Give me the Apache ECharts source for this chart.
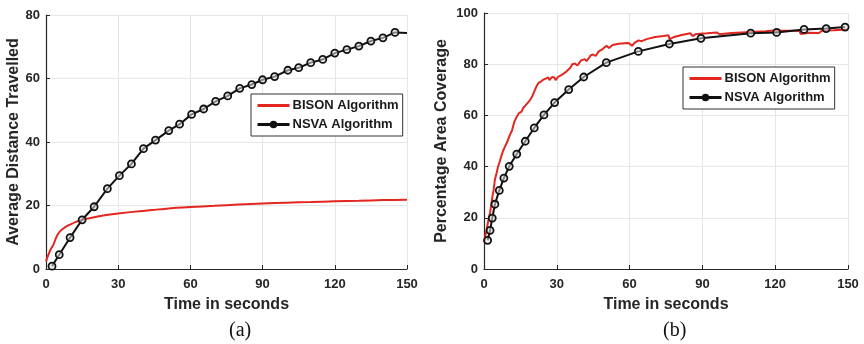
<!DOCTYPE html>
<html>
<head>
<meta charset="utf-8">
<script src="https://cdn.jsdelivr.net/npm/echarts@6/dist/echarts.min.js"></script>
<style>
  html, body { margin: 0; padding: 0; background: #fff; }
  #chart { width: 864px; height: 344px; }
</style>
</head>
<body>
<div id="chart"></div>
<script>
// (a) average distance travelled
const bisonTimeA = [0, 1, 2, 3, 4, 5, 6, 8, 10, 12, 15, 18, 22, 25, 30, 40, 50, 60, 70, 80, 90, 100, 110, 120, 130, 140, 150];
const bisonDistA = [2.4, 4.5, 6.3, 7.5, 9.5, 11, 12, 13.2, 14, 14.7, 15.5, 16, 16.6, 17, 17.5, 18.3, 19, 19.5, 19.9, 20.3, 20.6, 20.9, 21.1, 21.3, 21.5, 21.7, 21.8];
const nsvaTimeA = [2.5, 5.5, 10, 15, 20, 25.5, 30.5, 35.5, 40.5, 45.5, 51, 55.5, 60.5, 65.5, 70.5, 75.5, 80.5, 85.5, 90, 95, 100.5, 105, 110, 115, 120, 125, 130, 135, 140, 145, 150];
const nsvaDistA = [0.9, 4.5, 9.9, 15.5, 19.6, 25.3, 29.4, 33.1, 37.9, 40.6, 43.6, 45.6, 48.7, 50.4, 52.8, 54.5, 56.9, 58.1, 59.6, 60.6, 62.6, 63.4, 65, 66, 68, 69.1, 70.2, 71.8, 72.8, 74.5, 74.3];

// (b) percentage area coverage
const bisonTimeB = [0, 1, 2, 2.5, 3, 3.5, 4, 4.5, 5.2, 5.8, 6.5, 7.1, 7.8, 8.5, 9.5, 10.5, 11.5, 12.5, 13.5, 14.5, 15.5, 16.2, 17.2, 18, 19, 19.9, 21, 22, 22.6, 23.5, 24.5, 25.3, 26.5, 27, 28, 29, 29.5, 30.5, 32, 33.5, 34.2, 35.5, 36.4, 37.5, 38.5, 40, 41.5, 42.3, 44, 45, 46, 47.3, 49, 50.5, 51.5, 53, 55.5, 58, 59.6, 61, 62, 63.7, 65, 65.6, 67, 70.5, 74, 76, 76.5, 78, 81, 85, 86, 87.5, 92, 96, 97, 102, 108, 112, 116, 119.5, 124, 128, 130, 130.5, 134, 138, 139.5, 144, 148, 150];
const bisonCovB = [10.5, 15, 20, 22, 25, 28.5, 31, 35, 37.5, 40, 42, 44, 46, 47.5, 49.5, 52, 54, 57.5, 59.5, 61, 61.5, 63, 64, 63.8, 66, 67.5, 70, 72, 72.8, 73.2, 74, 74.5, 74.8, 73.8, 75, 74.8, 73.8, 75, 75.8, 76.8, 76.2, 78.5, 80, 80.3, 79.5, 81.5, 82, 81.2, 83.5, 83.8, 83.2, 85, 86, 87.2, 86.3, 87.5, 88, 88.2, 88.3, 87.2, 88.3, 89.3, 89, 88.4, 89.8, 90.6, 91, 91.3, 89.8, 90.5, 91.3, 92.1, 91, 91.8, 92.1, 92.4, 91.7, 92.2, 92.5, 92.7, 92.9, 93.2, 93.1, 93.1, 93, 91.8, 92.3, 92.2, 93.2, 93.3, 93.5, 93.6];
const nsvaTimeB = [1.5, 2.5, 3.4, 4.5, 6.3, 8.2, 10.4, 13.5, 17, 20.7, 24.7, 29.1, 34.9, 41.1, 50.4, 63.6, 76.4, 89.4, 109.9, 120.6, 131.9, 141, 148.8];
const nsvaCovB = [11.2, 15.1, 19.9, 25.3, 30.7, 35.5, 40.1, 44.9, 49.9, 55.1, 60.2, 65, 70.1, 75, 80.6, 85, 87.9, 90.1, 92.1, 92.4, 93.6, 93.9, 94.5];

const timeTicks = [0, 30, 60, 90, 120, 150];

const zip = (xs, ys) => xs.map((x, i) => [x, ys[i]]);

const font = "'Liberation Sans', Arial, sans-serif";
const axisColor = "#262626";

function xAxisFor(gridIndex) {
  return {
    type: "value",
    gridIndex: gridIndex,
    min: timeTicks[0],
    max: timeTicks[timeTicks.length - 1],
    interval: 30,
    name: "Time in seconds",
    nameLocation: "middle",
    nameGap: 28,
    nameTextStyle: { color: axisColor, fontSize: 16, fontWeight: "bold", fontFamily: font },
    axisLine: { lineStyle: { color: axisColor, width: 1.2 } },
    axisTick: { inside: true, length: 4, lineStyle: { color: axisColor } },
    axisLabel: { color: axisColor, fontSize: 13, fontWeight: "bold", fontFamily: font, margin: 9 },
    splitLine: { show: true, lineStyle: { color: "#e6e6e6", width: 1 } },
  };
}

function yAxisFor(gridIndex, max, name, gap) {
  return {
    type: "value",
    gridIndex: gridIndex,
    min: 0,
    max: max,
    interval: 20,
    name: name,
    nameLocation: "middle",
    nameGap: gap,
    nameTextStyle: { color: axisColor, fontSize: 16, fontWeight: "bold", fontFamily: font },
    axisLine: { show: true, lineStyle: { color: axisColor, width: 1.2 } },
    axisTick: { show: true, inside: true, length: 4, lineStyle: { color: axisColor } },
    axisLabel: { color: axisColor, fontSize: 13, fontWeight: "bold", fontFamily: font, margin: 6 },
    splitLine: { show: true, lineStyle: { color: "#e6e6e6", width: 1 } },
  };
}

function bisonSeries(idx, data) {
  return {
    name: "BISON Algorithm",
    type: "line",
    xAxisIndex: idx,
    yAxisIndex: idx,
    data: data,
    symbol: "none",
    smooth: idx === 0 ? 0.3 : false,
    lineStyle: { color: "#e3261f", width: 2 },
    itemStyle: { color: "#e3261f" },
    z: 2,
  };
}

function nsvaSeries(idx, data, lastBare) {
  return {
    name: "NSVA Algorithm",
    type: "line",
    xAxisIndex: idx,
    yAxisIndex: idx,
    data: data.map((p, i) => (lastBare && i === data.length - 1 ? { value: p, symbol: "none" } : p)),
    symbol: "circle",
    symbolSize: 7,
    showAllSymbol: true,
    lineStyle: { color: "#111", width: 2 },
    itemStyle: { color: "rgba(225,225,225,0.55)", borderColor: "#111", borderWidth: 1.8 },
    z: 3,
  };
}

function legendAt(left, top) {
  return {
    orient: "vertical",
    left: left,
    top: top,
    itemWidth: 32,
    itemHeight: 7,
    itemGap: 4,
    padding: [4, 4, 4, 5],
    borderColor: "#333",
    borderWidth: 1,
    backgroundColor: "#fff",
    textStyle: { color: "#1a1a1a", fontSize: 13, fontWeight: "bold", fontFamily: font, padding: [0, 0, 0, -2], lineHeight: 15 },
    data: [
      { name: "BISON Algorithm", itemStyle: { opacity: 0 }, lineStyle: { width: 3, color: "#e3261f" } },
      { name: "NSVA Algorithm", itemStyle: { color: "#111", borderColor: "#111" }, lineStyle: { width: 3, color: "#111" } },
    ],
  };
}

const chart = echarts.init(document.getElementById("chart"), null, { renderer: "canvas" });

chart.setOption({
  animation: false,
  backgroundColor: "#fff",
  grid: [
    { left: 46, top: 15, width: 361, height: 254 },
    { left: 484, top: 13, width: 364, height: 256 },
  ],
  xAxis: [xAxisFor(0), xAxisFor(1)],
  yAxis: [
    yAxisFor(0, 80, "Average Distance Travelled", 24),
    yAxisFor(1, 100, "Percentage Area Coverage", 34),
  ],
  legend: [legendAt(251, 94), legendAt(683, 67)],
  series: [
    bisonSeries(0, zip(bisonTimeA, bisonDistA)),
    nsvaSeries(0, zip(nsvaTimeA, nsvaDistA), true),
    bisonSeries(1, zip(bisonTimeB, bisonCovB)),
    nsvaSeries(1, zip(nsvaTimeB, nsvaCovB), false),
  ],
  graphic: [
    {
      type: "text",
      left: 229,
      top: 321,
      style: { text: "(a)", fill: "#111", font: "20px 'Liberation Serif', 'Times New Roman', serif" },
    },
    {
      type: "text",
      left: 663,
      top: 321,
      style: { text: "(b)", fill: "#111", font: "20px 'Liberation Serif', 'Times New Roman', serif" },
    },
  ],
});
</script>
</body>
</html>
